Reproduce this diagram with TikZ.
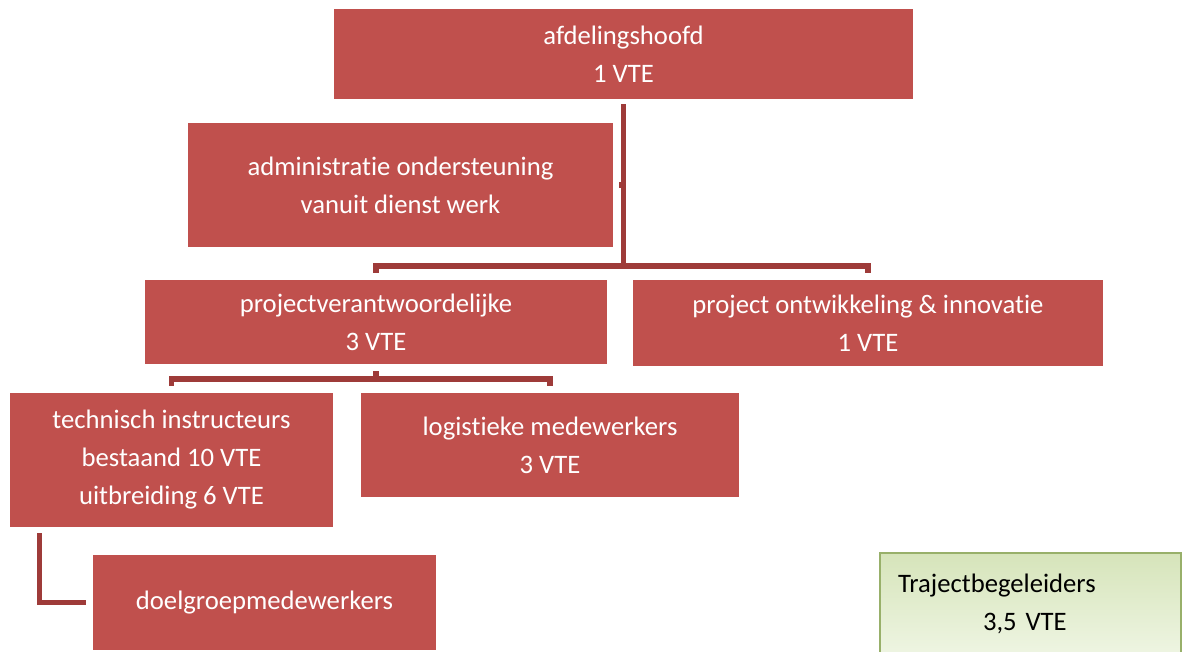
\documentclass[tikz,border=0pt]{standalone}
\usepackage{fontspec}
\setmainfont[Ligatures=NoCommon]{Carlito}
\definecolor{boxred}{RGB}{192,80,77}
\definecolor{connred}{RGB}{158,59,57}
\definecolor{greenedge}{RGB}{152,176,106}
\definecolor{greentop}{RGB}{214,228,186}
\definecolor{greenbot}{RGB}{238,245,226}
\tikzset{
  sz/.style 2 args={minimum width=#1*0.75pt, minimum height=#2*0.75pt},
  redbox/.style={fill=boxred, draw=none, inner sep=0pt, text=white, align=center,
    font=\fontsize{20}{28.5}\selectfont},
  conn/.style={draw=connred, line width=4pt, line cap=butt, line join=miter},
  greenbox/.style={draw=greenedge, line width=0.8pt, top color=greentop, bottom color=greenbot,
    inner sep=0pt, align=left, text=black, font=\fontsize{20}{28.5}\selectfont}
}
\begin{document}
\begin{tikzpicture}[x=0.75pt,y=-0.75pt]
\useasboundingbox (0,0) rectangle (1186,652);
\fill[white] (0,0) rectangle (1186,652);

\node[redbox, sz={579}{90}] (a) at (623.5,54) {afdelingshoofd\\1 VTE};
\node[redbox, sz={425}{124}] (adm) at (400.5,185) {administratie ondersteuning\\vanuit dienst werk};
\node[redbox, sz={462}{84}] (p) at (376,322) {projectverantwoordelijke\\3 VTE};
\node[redbox, sz={470}{86}] (o) at (868,323) {project ontwikkeling \& innovatie\\1 VTE};
\node[redbox, sz={323}{134}] (t) at (171.5,460) {technisch instructeurs\\bestaand 10 VTE\\uitbreiding 6 VTE};
\node[redbox, sz={378}{104}] (l) at (550,445) {logistieke medewerkers\\3 VTE};
\node[redbox, sz={343}{95}] (d) at (264.5,602.5) {doelgroepmedewerkers};
\node[greenbox, sz={301}{101}, text width=198.75pt] (g) at (1030.5,603.5)
  {Trajectbegeleiders\\\hspace*{63.75pt}3,5 VTE};

\coordinate (bus1) at (0,266);
\coordinate (bus2) at (0,379);

% trunk from afdelingshoofd
\draw[conn] ([yshift=-3.75pt]a.south) -- (a.south |- bus1);
% assistant stub
\draw[conn] ([xshift=4.5pt]adm.east) -- (adm.east -| a.south);
% bus 1
\draw[conn] ([yshift=5.25pt]p.north) -- (p.north |- bus1) -- (o.north |- bus1) -- ([yshift=5.25pt]o.north);
% from projectverantwoordelijke
\draw[conn] ([yshift=-5.25pt]p.south) -- (p.south |- bus2);
\draw[conn] ([yshift=5.25pt]t.north) -- (t.north |- bus2) -- (l.north |- bus2) -- ([yshift=5.25pt]l.north);
% technisch -> doelgroep
\draw[conn] ([xshift=22.5pt,yshift=-4.5pt]t.south west) |- ([xshift=-5.25pt]d.west);
\end{tikzpicture}
\end{document}
